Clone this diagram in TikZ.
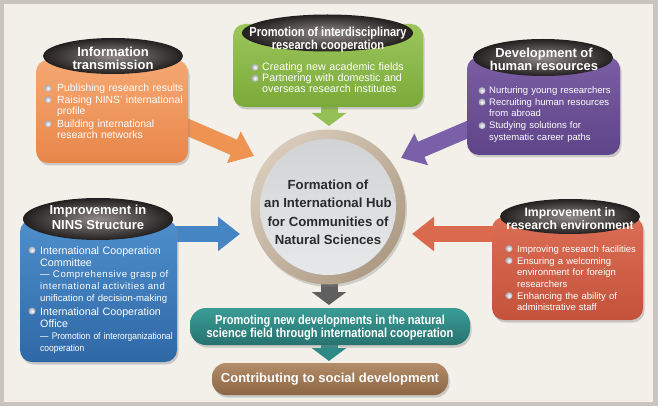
\documentclass[tikz,border=0pt]{standalone}
\usepackage{fontspec}
\setmainfont{Liberation Sans}
\newfontfamily\condfont[FakeStretch=0.85]{Liberation Sans}
\newfontfamily\spacedfont[LetterSpace=6]{Liberation Sans}
\newfontfamily\narrowfont[FakeStretch=0.88]{Liberation Sans}
\usetikzlibrary{arrows.meta,shadows,shapes.geometric,shadings}
\definecolor{framegray}{HTML}{C9C5BE}
\definecolor{paper}{HTML}{F3F0EA}
\definecolor{orT}{HTML}{F5A872}\definecolor{orB}{HTML}{E8864A}\definecolor{orA}{HTML}{EE9352}
\definecolor{grT}{HTML}{9CC65A}\definecolor{grB}{HTML}{7AAA3A}\definecolor{grA}{HTML}{93BF55}
\definecolor{puT}{HTML}{7B5EA3}\definecolor{puB}{HTML}{5E4488}\definecolor{puA}{HTML}{7A60A8}
\definecolor{blT}{HTML}{4E8FCC}\definecolor{blB}{HTML}{2F68A6}\definecolor{blA}{HTML}{4585C4}
\definecolor{reT}{HTML}{DB6E54}\definecolor{reB}{HTML}{C4523C}\definecolor{reA}{HTML}{DA6A4E}
\definecolor{hdrin}{HTML}{8F8A88}\definecolor{hdrout}{HTML}{231F1F}
\definecolor{teT}{HTML}{3B9C97}\definecolor{teB}{HTML}{26736F}\definecolor{teA}{HTML}{2E8A86}
\definecolor{brT}{HTML}{B38D69}\definecolor{brB}{HTML}{8C6644}
\definecolor{gyA}{HTML}{5F5F5F}
\definecolor{ringA}{HTML}{D8CBBA}\definecolor{ringB}{HTML}{AE9B85}
\definecolor{hubin}{HTML}{E6E8EA}
\definecolor{hubtext}{HTML}{2B2B2B}
\definecolor{bulgray}{HTML}{A5A7B5}
\begin{document}
\begin{tikzpicture}[x=1pt,y=-1pt,
  box/.style={rectangle, rounded corners=12pt, inner sep=0pt,
    drop shadow={shadow xshift=1.5pt, shadow yshift=-2.5pt, opacity=0.35}},
  hdr/.style={ellipse, inner sep=0pt, inner color=hdrin, outer color=hdrout},
  hdrtext/.style={align=center, inner sep=0pt, text=white, font=\bfseries\fontsize{13}{13}\selectfont},
  itm/.style={anchor=base west, inner sep=0pt, text width=150pt, align=left, text=white,
    font=\fontsize{10.4}{11.5}\selectfont},
  smallitm/.style={itm, font=\fontsize{9.5}{11.5}\selectfont},
  bul/.style={circle, inner sep=0pt, minimum size=7pt, inner color=white, outer color=bulgray},
  fatarrow/.style={line width=16.5pt, -{Triangle[width=33pt,length=22pt]}},
  downarrow/.style={line width=17pt, -{Triangle[width=34pt,length=13pt]}}
]
\useasboundingbox (0,0) rectangle (658,406);
\fill[framegray] (0,0) rectangle (658,406);
\fill[paper] (4,4) rectangle (653,402);

% arrows
\coordinate (oA) at (180,124); \coordinate (oB) at (254,156);
\coordinate (pA) at (476,126); \coordinate (pB) at (401,158);
\coordinate (bA) at (170,234); \coordinate (bB) at (240,234);
\coordinate (rA) at (500,234); \coordinate (rB) at (412,234);
\coordinate (gA) at (329,100); \coordinate (gB) at (329,126);
\coordinate (hA) at (329,280); \coordinate (hB) at (329,305);
\coordinate (tA) at (329,340); \coordinate (tB) at (329,361);
\draw[fatarrow, draw=orA] (oA) -- (oB);
\draw[fatarrow, draw=puA] (pA) -- (pB);
\draw[fatarrow, draw=blA] (bA) -- (bB);
\draw[fatarrow, draw=reA] (rA) -- (rB);
\draw[downarrow, draw=grA] (gA) -- (gB);
\draw[downarrow, draw=gyA] (hA) -- (hB);
\draw[downarrow, draw=teA] (tA) -- (tB);

% hub
\node[circle, minimum size=155pt, inner sep=0pt, left color=ringA, right color=ringB, shading angle=45,
  drop shadow={shadow xshift=1.5pt, shadow yshift=-2.5pt, opacity=0.3}] (hubring) at (328,207) {};
\node[circle, minimum size=136pt, inner sep=0pt, top color=hubin!80!gray, bottom color=hubin] (hub) at (328,207) {};
\node[align=center, inner sep=0pt, text=hubtext, font=\bfseries\fontsize{13.2}{18.3}\selectfont] (hubt) at (328,212.4)
  {Formation of\\an International Hub\\for Communities of\\Natural Sciences};

% orange box
\node[box, top color=orT, bottom color=orB, minimum width=152pt, minimum height=103pt] (obox) at (112,111.5) {};
\node[hdr, minimum width=140pt, minimum height=36pt] (ohdr) at (113,56) {};
\node[hdrtext] (ohdrt) at (113,58.5) {Information\\transmission};
\node[bul] (ob1) at (48,88.3) {};
\node[itm] (ot1) at (57,92) {Publishing research results};
\node[bul] (ob2) at (48,99.8) {};
\node[itm] (ot2) at (57,103.5) {Raising NINS’ international\\profile};
\node[bul] (ob3) at (48,123.8) {};
\node[itm] (ot3) at (57,127.5) {Building international\\research networks};

% green box
\node[box, top color=grT, bottom color=grB, minimum width=190pt, minimum height=83pt] (gbox) at (328,65.5) {};
\node[hdr, minimum width=171pt, minimum height=37pt] (ghdr) at (327.5,33) {};
\node[hdrtext, font=\condfont\bfseries\fontsize{13}{13}\selectfont] (ghdrt) at (328,39.8) {Promotion of interdisciplinary\\research cooperation};
\node[bul] (gb1) at (255,67.3) {};
\node[itm, font=\fontsize{10.7}{11}\selectfont] (gt1) at (262,71) {Creating new academic fields};
\node[bul] (gb2) at (255,78.3) {};
\node[itm, font=\fontsize{10.7}{11}\selectfont] (gt2) at (262,82) {Partnering with domestic and\\overseas research institutes};

% purple box
\node[box, top color=puT, bottom color=puB, minimum width=153pt, minimum height=98pt] (pbox) at (543.5,106) {};
\node[hdr, minimum width=140pt, minimum height=37pt] (phdr) at (543,57.5) {};
\node[hdrtext] (phdrt) at (544,59.5) {Development of\\human resources};
\node[bul] (pb1) at (482,90.6) {};
\node[smallitm] (pt1) at (489,94) {Nurturing young researchers};
\node[bul] (pb2) at (482,102.1) {};
\node[smallitm] (pt2) at (489,105.5) {Recruiting human resources\\from abroad};
\node[bul] (pb3) at (482,125.6) {};
\node[smallitm] (pt3) at (489,129) {Studying solutions for\\systematic career paths};

% blue box
\node[box, top color=blT, bottom color=blB, minimum width=157pt, minimum height=142pt] (bbox) at (98.5,291) {};
\node[hdr, minimum width=150pt, minimum height=42pt] (bhdr) at (98,219) {};
\node[hdrtext, font=\bfseries\fontsize{13}{15}\selectfont] (bhdrt) at (98,217.5) {Improvement in\\NINS Structure};
\node[bul] (bb1) at (32,250.1) {};
\node[itm, font=\fontsize{10.7}{12}\selectfont] (bt1) at (40,254) {International Cooperation\\Committee};
\node[itm, font=\spacedfont\fontsize{9.6}{12}\selectfont] (bs1) at (40,277)
  {\makebox[132pt][s]{— Comprehensive grasp of}\\\makebox[132pt][s]{international activities and}\\{\rmfamily unification of decision-making}};
\node[bul] (bb2) at (32,311.1) {};
\node[itm, font=\fontsize{10.7}{12}\selectfont] (bt2) at (40,315) {International Cooperation\\Office};
\node[itm, font=\narrowfont\fontsize{9.6}{12}\selectfont] (bs2) at (40,339) {— Promotion of interorganizational\\cooperation};

% red box
\node[box, top color=reT, bottom color=reB, minimum width=151pt, minimum height=103pt] (rbox) at (567.5,268.5) {};
\node[hdr, minimum width=140pt, minimum height=35pt] (rhdr) at (570,216.5) {};
\node[hdrtext, font=\bfseries\fontsize{12.2}{12.3}\selectfont] (rhdrt) at (570,218.5) {Improvement in\\research environment};
\node[bul] (rb1) at (509,248.6) {};
\node[smallitm] (rt1) at (517,252) {Improving research facilities};
\node[bul] (rb2) at (509,260.6) {};
\node[smallitm] (rt2) at (517,264) {Ensuring a welcoming\\environment for foreign\\researchers};
\node[bul] (rb3) at (509,295.6) {};
\node[smallitm] (rt3) at (517,299) {Enhancing the ability of\\administrative staff};

% banners
\node[box, rounded corners=16pt, top color=teT, bottom color=teB, minimum width=280pt, minimum height=37pt] (teal) at (330,326.5) {};
\node[hdrtext, font=\condfont\bfseries\fontsize{13}{13}\selectfont] (tealt) at (330,328) {Promoting new developments in the natural\\science field through international cooperation};
\node[box, rounded corners=14pt, top color=brT, bottom color=brB, minimum width=236pt, minimum height=32pt] (brown) at (330,379) {};
\node[hdrtext] (brownt) at (330,379) {Contributing to social development};
\end{tikzpicture}
\end{document}
